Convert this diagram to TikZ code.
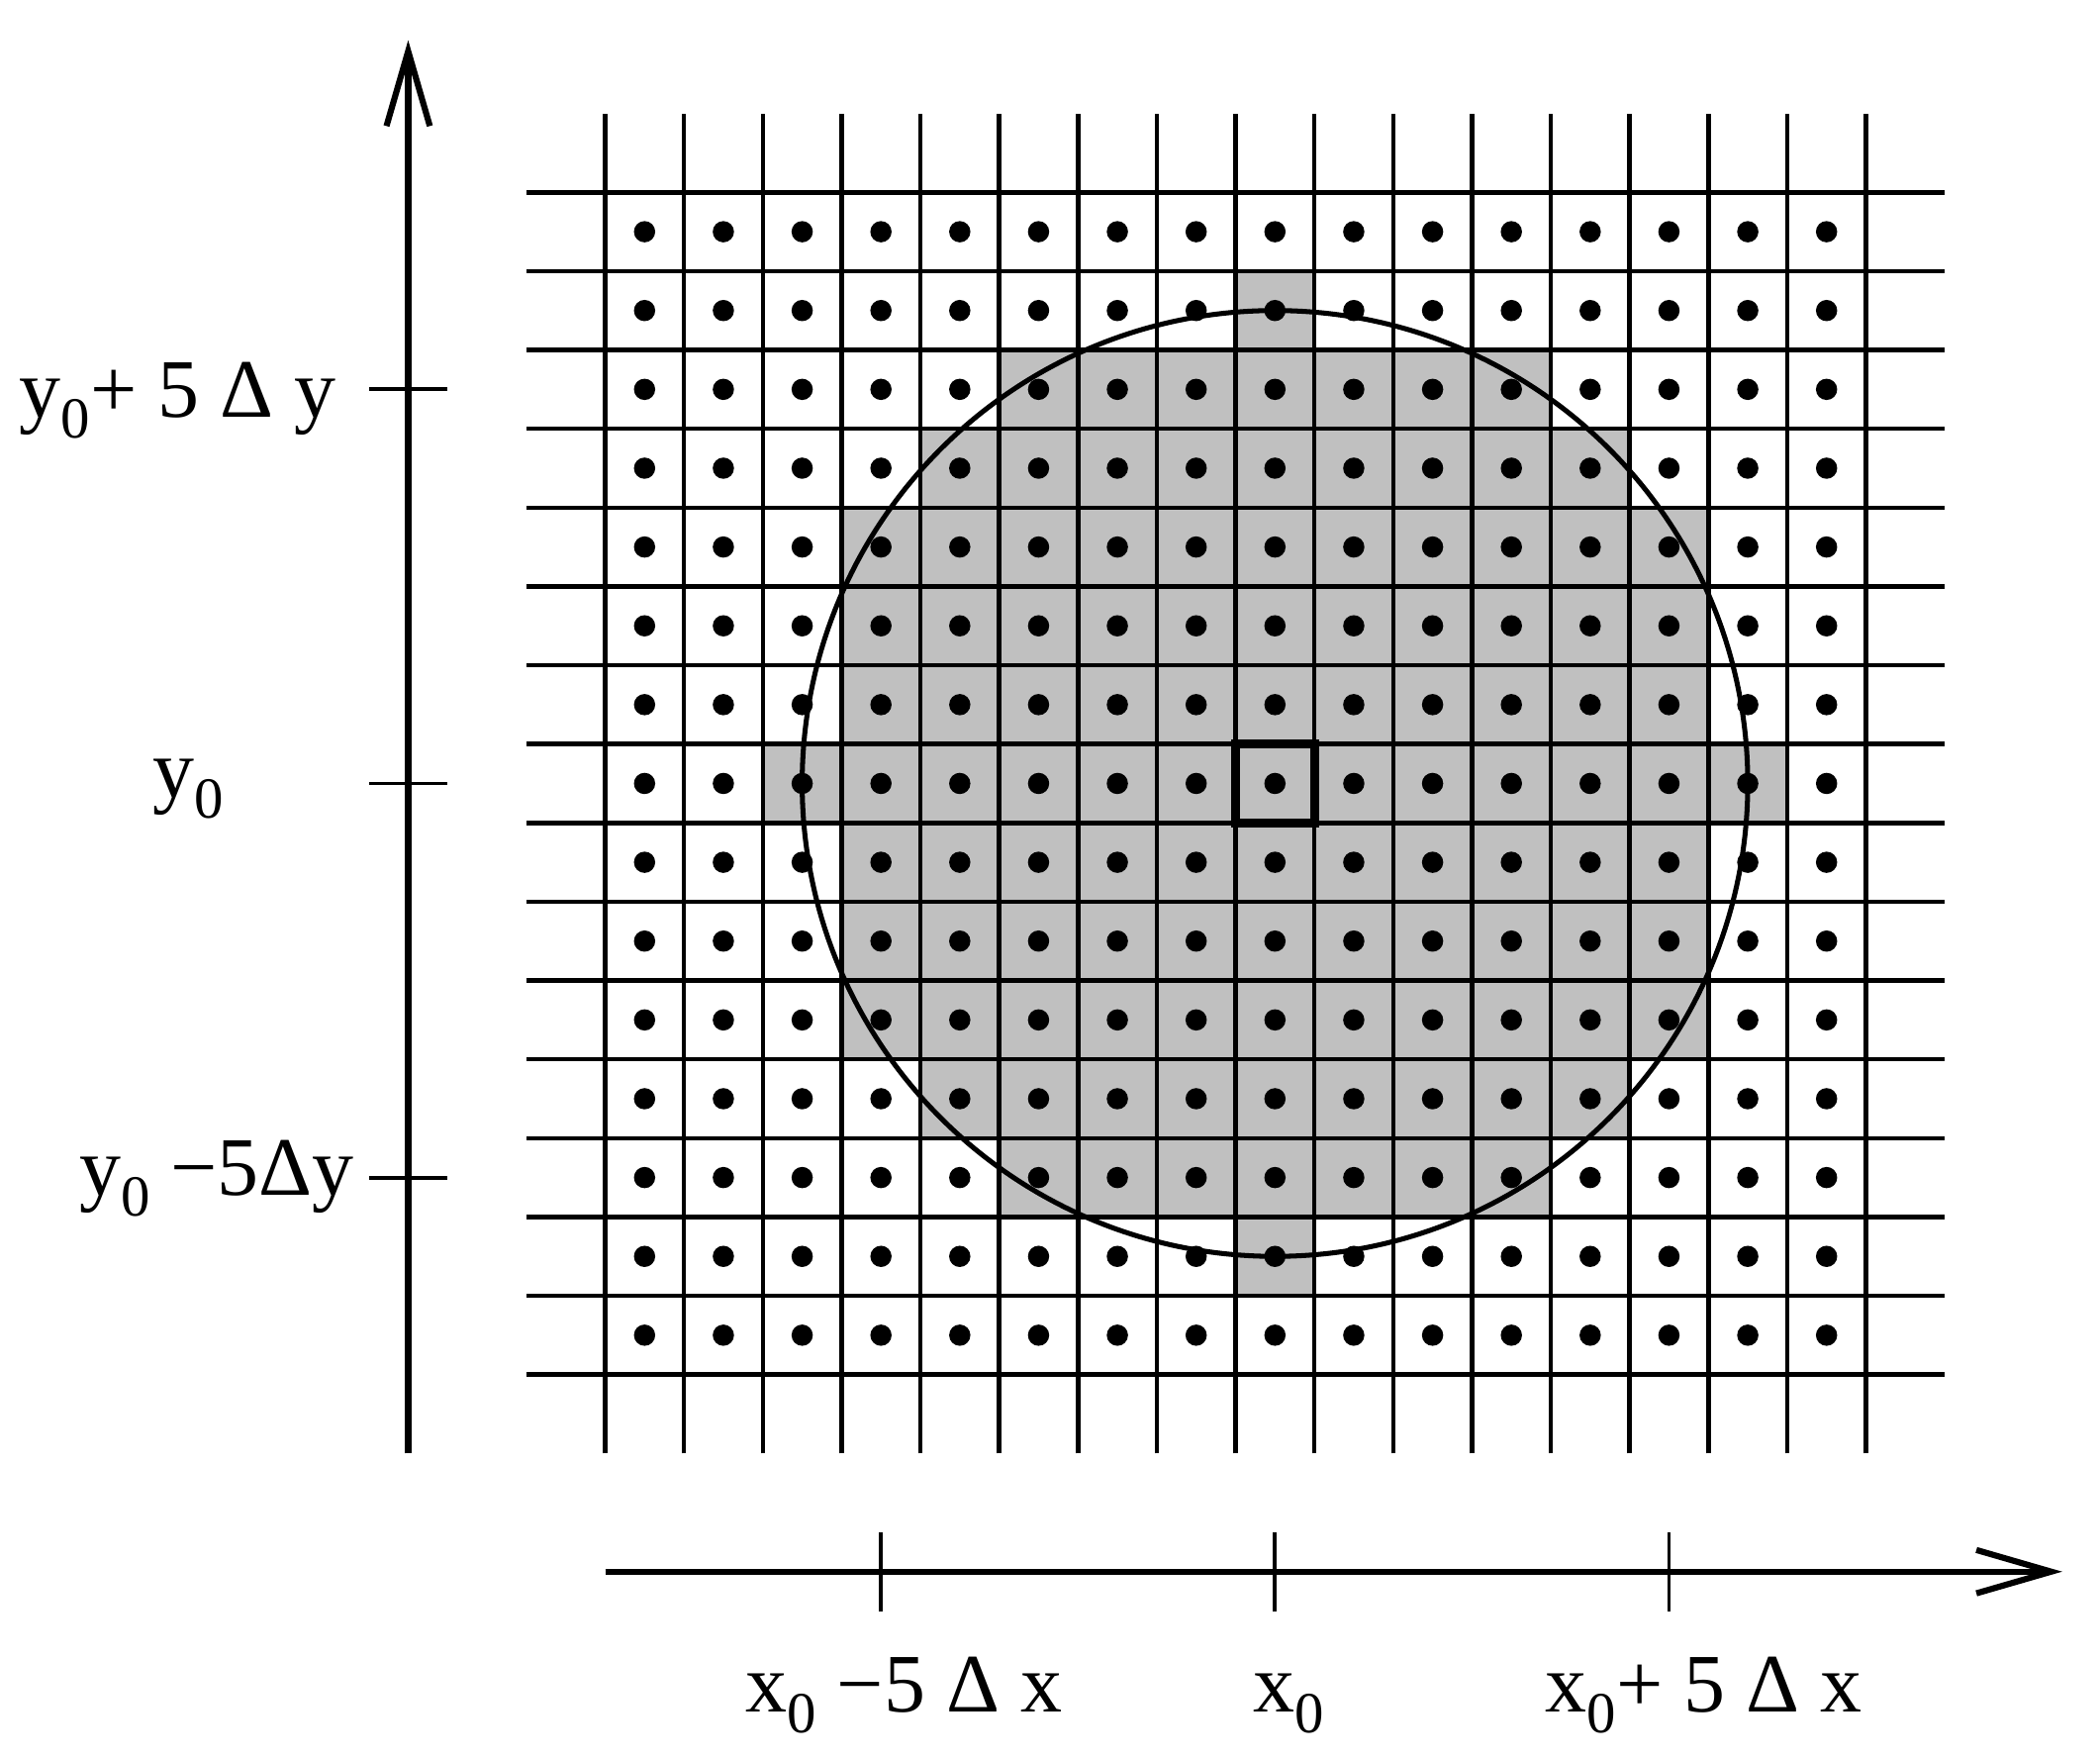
\documentclass[tikz,border=0pt]{standalone}
\usepackage{fontspec}
\usepackage{graphicx}
\setmainfont{Liberation Serif}
\usetikzlibrary{arrows.meta}
\definecolor{cellgray}{RGB}{192,192,192}
\newcommand\subz{\raisebox{-0.25em}{\fontsize{21}{21}\selectfont 0}}
\begin{document}
\begin{tikzpicture}[
  gridline/.style={line width=1.6pt},
  axisline/.style={line width=2.2pt, -{Straight Barb[length=0.95cm,width=0.55cm,line width=2.2pt]}},
  tickline/.style={line width=1.4pt},
  lbl/.style={font=\fontsize{30}{36}\selectfont, inner sep=0pt},
  gridpt/.style={fill=black},
]
\useasboundingbox (-16.18,-12.37) rectangle (10.47,9.94);
% shaded cells (centre within radius 6)
\foreach \i in {-8,...,7} {
  \foreach \j in {-7,...,7} {
    \pgfmathtruncatemacro\inside{(\i*\i+\j*\j<=36)?1:0}
    \ifnum\inside=1
      \fill[cellgray] (\i-0.5,\j-0.5) rectangle (\i+0.5,\j+0.5);
    \fi
  }
}
% grid lines
\foreach \x in {-8.5,-7.5,...,7.6} \draw[gridline] (\x,-8.5) -- (\x,8.5);
\foreach \y in {-7.5,-6.5,...,7.6} \draw[gridline] (-9.5,\y) -- (8.5,\y);
% dots
\foreach \i in {-8,...,7} {
  \foreach \j in {-7,...,7} {
    \fill[gridpt] (\i,\j) circle (0.135);
  }
}
% circle and centre cell
\node[draw, circle, line width=1.8pt, minimum size=12cm, inner sep=0pt] (circ) at (0,0) {};
\node[draw, line width=3.3pt, minimum size=1cm, inner sep=0pt] (ctr) at (0,0) {};
% y axis
\coordinate (yb) at (-11,-8.5);
\coordinate (yt) at (-11,9.43);
\draw[axisline] (yb) -- (yt);
\foreach \v/\n in {5/a,0/b,-5/c} {
  \coordinate (yl\n) at (-11.5,\v);
  \coordinate (yr\n) at (-10.5,\v);
  \draw[tickline] (yl\n) -- (yr\n);
}
% x axis
\coordinate (xl) at (-8.5,-10);
\coordinate (xr) at (9.99,-10);
\draw[axisline] (xl) -- (xr);
\foreach \v/\n in {-5/a,0/b,5/c} {
  \coordinate (xt\n) at (\v,-9.5);
  \coordinate (xd\n) at (\v,-10.5);
  \draw[tickline] (xt\n) -- (xd\n);
}
% labels
\node[lbl, anchor=base east] (ly1) at (-11.91,4.645) {y\subz+ 5 Δ y};
\node[lbl, anchor=base] (ly0) at (-13.79,-0.17) {y\subz};
\node[lbl, anchor=base east] (ly2) at (-11.68,-5.23) {y\subz{} −5Δy};
\node[lbl, anchor=base] (lx1) at (-4.71,-11.78) {x\subz{} −5 Δ x};
\node[lbl, anchor=base] (lx0) at (0.17,-11.78) {x\subz};
\node[lbl, anchor=base] (lx2) at (5.44,-11.78) {x\subz+ 5 Δ x};
\end{tikzpicture}
\end{document}
